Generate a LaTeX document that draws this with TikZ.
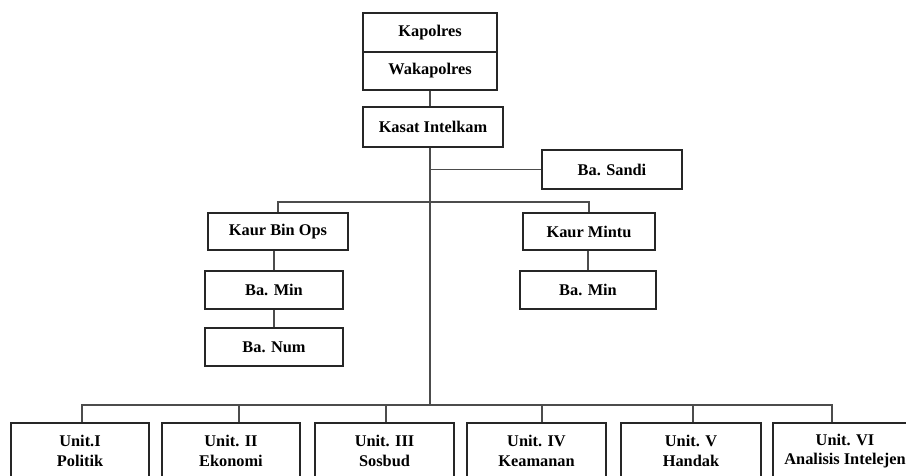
\documentclass[tikz,border=0pt]{standalone}
\usepackage{fontspec}
\setmainfont{Liberation Serif}
\usepackage{tikz}

\begin{document}
\begin{tikzpicture}[x=0.02cm, y=-0.02cm,
    orgbox/.style={draw=black!85, line width=0.6pt, fill=white, align=center, inner sep=0pt,
        font=\fontsize{9.3}{11}\selectfont\bfseries},
    link/.style={draw=black!70, line width=0.6pt}]
    \clip (0,0) rectangle (906,476);

    % Kapolres / Wakapolres (top)
    \node[orgbox, minimum width=2.68cm, minimum height=0.78cm] (kapolres) at (430,32.5) {Kapolres};
    \node[orgbox, minimum width=2.68cm, minimum height=0.76cm] (waka) at (430,71) {Wakapolres};

    % Kasat Intelkam and Ba. Sandi
    \node[orgbox, minimum width=2.8cm, minimum height=0.8cm] (kasat) at (433,127) {Kasat Intelkam};
    \node[orgbox, minimum width=2.8cm, minimum height=0.78cm] (sandi) at (612,169.5) {Ba. Sandi};
    \coordinate (branch) at (430,202);
    \coordinate (bus) at (430,405);

    % Kaur Bin Ops (left)
    \node[orgbox, minimum width=2.8cm, minimum height=0.74cm] (binops) at (278,231.5) {Kaur Bin Ops};
    \node[orgbox, minimum width=2.76cm, minimum height=0.76cm] (minkiri) at (274,290) {Ba. Min};
    \node[orgbox, minimum width=2.76cm, minimum height=0.76cm] (num) at (274,347) {Ba. Num};

    % Kaur Mintu (right)
    \node[orgbox, minimum width=2.64cm, minimum height=0.74cm] (mintu) at (589,231.5) {Kaur Mintu};
    \node[orgbox, minimum width=2.72cm, minimum height=0.76cm] (minkanan) at (588,290) {Ba. Min};

    % Units (bottom)
    \node[orgbox, minimum width=2.76cm, minimum height=1.12cm] (u1) at (80,451) {Unit.I\\Politik};
    \node[orgbox, minimum width=2.76cm, minimum height=1.12cm] (u2) at (231,451) {Unit. II\\Ekonomi};
    \node[orgbox, minimum width=2.78cm, minimum height=1.12cm] (u3) at (384.5,451) {Unit. III\\Sosbud};
    \node[orgbox, minimum width=2.78cm, minimum height=1.12cm] (u4) at (536.5,451) {Unit. IV\\Keamanan};
    \node[orgbox, minimum width=2.8cm, minimum height=1.12cm] (u5) at (691,451) {Unit. V\\Handak};
    \node[orgbox, minimum width=2.88cm, minimum height=1.12cm] (u6) at (845,451) {Unit. VI\\Analisis Intelejen};

    % Connectors
    \draw[link] (waka.south) -- (waka.south |- kasat.north);
    \draw[link] (kasat.south -| bus) -- (bus);
    \draw[link] (sandi.west) -- (sandi.west -| bus);
    \draw[link] (binops.north) |- (branch);
    \draw[link] (mintu.north) |- (branch);
    \draw[link] (minkiri.north) -- (minkiri.north |- binops.south);
    \draw[link] (num.north) -- (num.north |- minkiri.south);
    \draw[link] (minkanan.north) -- (minkanan.north |- mintu.south);
    \foreach \n/\dx in {u1/2, u2/8, u3/1.5, u4/5.5, u5/2, u6/-13}
        \draw[link] ([xshift=\dx*0.02cm]\n.north) |- (bus);
\end{tikzpicture}
\end{document}
